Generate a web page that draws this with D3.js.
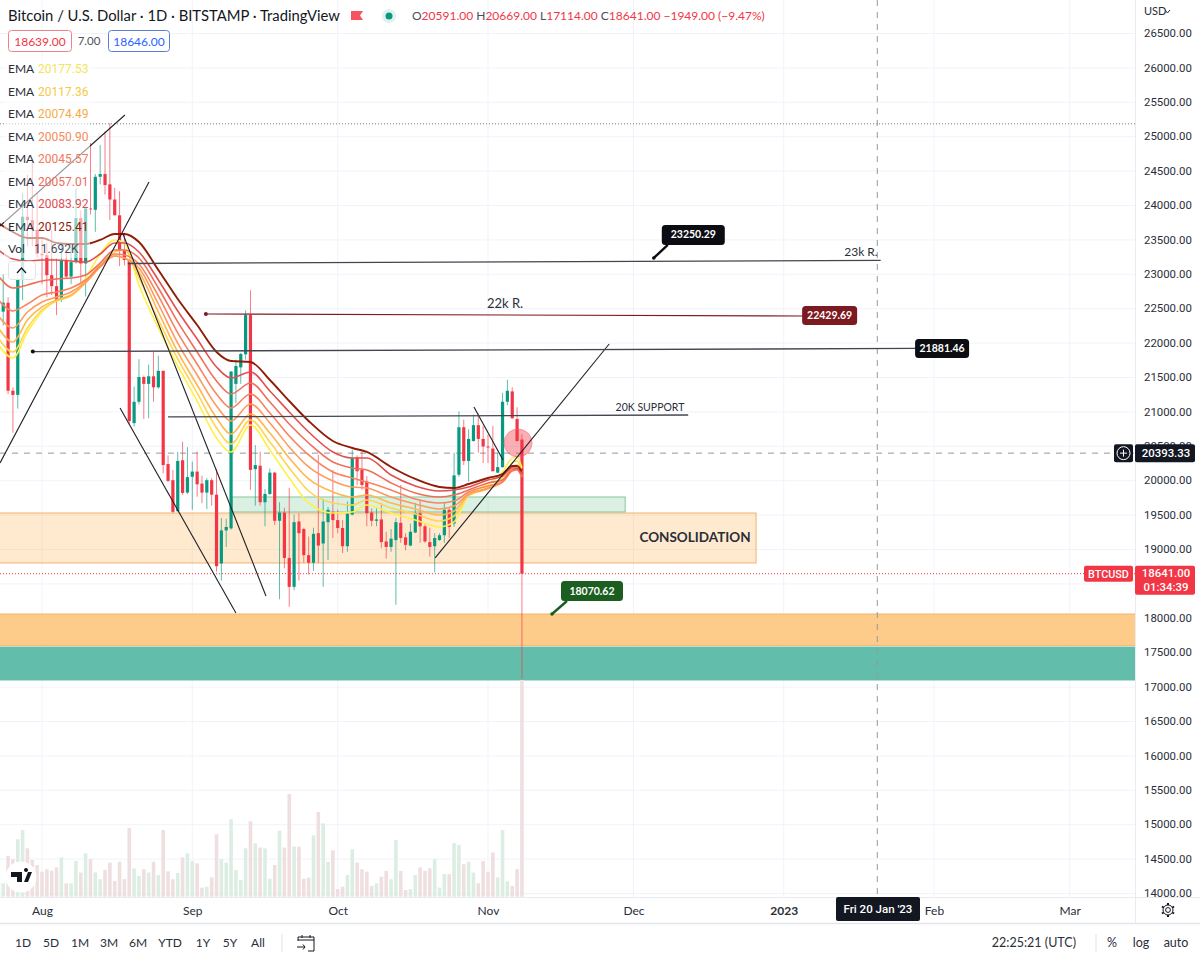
<!DOCTYPE html>
<html><head><meta charset="utf-8">
<script src="https://cdn.jsdelivr.net/npm/d3@7"></script>
<style>
html,body{margin:0;padding:0;background:#fff}
svg{display:block}
text{font-family:"Lato","Open Sans",sans-serif;fill:#131722}
.num{font-family:"Roboto",sans-serif}
</style></head><body>
<svg id="c" width="1200" height="960"></svg>
<script>
// ---- data ----
const firstDay = "2022-07-23";
const opens  = [22680,22450,22580,21300,21240,22910,23830,23780,23640,23290,23270,22980,22820,22620,23200,22960,23170,23810,23150,23950,23930,24410,24450,24300,24080,23850,23350,23200,20830,21140,21500,21400,21510,21350,21590,20235,20000,19550,20290,19820,20050,20125,19950,19820,20000,19790,18790,19270,19300,21400,21640,21830,22400,20160,20210,19680,19800,20110,19410,19530,18870,18450,19400,19290,18910,18800,19230,19080,19390,19540,19420,19305,19040,19500,20330,20150,19980,19530,19410,19430,19110,19030,19130,19380,19170,19050,19240,19520,19330,19100,19040,19130,19200,19570,19370,20080,20770,20280,20570,20800,20600,20490,20460,20110,20190,21140,21290,20890,20591];
const highs  = [22990,22990,22660,21350,22990,24170,24440,24650,24170,23500,23450,23640,23220,23450,23350,23400,24240,23920,24000,24900,24450,24870,25070,25190,24250,24200,23600,23220,21360,21760,21520,21680,21870,21810,21590,20360,20150,20410,20560,20480,20270,20415,20065,20030,20030,20165,19450,19440,21580,21750,21850,22470,22760,20510,20415,19870,20170,20120,19680,19600,19890,19500,19520,19310,19180,19310,20370,19730,19610,20150,19570,19420,19690,20440,20360,20410,20060,19590,19590,19670,19250,19290,19450,19930,19230,19370,19670,19700,19360,19310,19230,19230,19670,19600,20400,21000,20880,20740,20950,20970,20790,20660,20790,20400,21270,21460,21350,21060,20669];
const lows   = [21950,22250,21250,20690,21040,22620,23400,23400,23230,22850,22660,22690,22400,22590,22930,22850,23150,22880,22670,23860,23610,24300,24150,23780,23850,23110,23120,20800,20780,21100,20890,20900,21140,21330,20100,19970,19520,19540,19785,19800,19570,19760,19665,19580,19630,18670,18540,19030,19280,21120,21400,21750,19860,19630,19630,19330,19785,19350,18270,18720,18160,18400,18540,18800,18630,18680,18800,18450,18840,19160,19230,18940,18960,19490,19930,19860,19330,19330,19330,19010,18860,18960,18190,19090,18980,19040,19230,19090,19090,18890,18660,19120,19090,19160,19320,20050,20220,19980,20560,20400,20250,20250,20130,20100,20180,21090,20890,20560,17114];
const closes = [22450,22580,21300,21240,22910,23830,23780,23640,23290,23270,22980,22820,22620,23200,22960,23170,23810,23150,23950,23940,24410,24450,24290,24080,23850,23350,23200,20860,21140,21500,21400,21510,21350,21590,20220,19990,19540,20280,19815,20045,20125,19940,19820,20000,19790,18750,19270,19320,21580,21660,21835,22400,20150,20220,19680,19800,20110,19410,19530,18870,18450,19390,19230,18910,18800,19220,19050,19400,19570,19420,19305,19040,19510,20320,20130,19930,19520,19410,19430,19100,19030,19150,19390,19160,19060,19250,19520,19330,19110,19030,19160,19200,19570,19320,20070,20770,20280,20600,20800,20600,20490,20480,20130,20190,21140,21300,20900,20570,18641];
const volumesK = [1.08,0.72,2.20,2.02,3.10,3.60,2.61,1.98,1.71,1.35,1.48,1.40,1.58,2.12,0.72,0.72,1.93,1.30,2.34,2.03,1.31,0.94,1.44,1.84,0.85,1.89,0.95,3.71,1.53,1.12,1.48,1.30,1.89,1.17,3.60,1.37,0.94,1.28,2.12,2.34,1.93,1.80,0.49,0.54,1.04,3.37,2.03,1.84,4.18,1.44,0.90,2.61,4.07,2.88,2.65,2.61,0.97,1.71,3.56,2.65,5.54,2.70,2.70,0.97,1.03,3.31,4.57,3.96,1.89,2.50,0.41,0.54,1.17,2.56,1.84,1.48,1.35,0.58,0.72,1.08,1.39,0.94,3.06,1.39,0.36,0.41,1.17,1.58,1.39,1.53,2.02,0.49,1.22,1.22,2.90,2.79,1.75,1.89,1.30,0.72,1.93,1.35,2.39,1.04,3.60,0.83,0.58,1.49,11.692];

const emaDays = [-9,-6,-3,0,3,6,9,12,15,17,20,24,28,32,36,39,43,47,51,55,60,64,67,72,77,82,85,88,92,95,97,98,99]; // days after 1 Aug 2022
const ema1 = [21965,21776,22154,22445,22620,22678,22939,23288,23492,23448,22838,22213,21660,21151,20614,20410,20803,20439,20032,19669,19523,19538,19640,19523,19422,19320,19393,19785,19945,20120,20323,20338,20177.53];
const ema2 = [22067,21864,22213,22474,22605,22678,22881,23143,23317,23346,22939,22329,21762,21268,20759,20527,20875,20556,20178,19843,19669,19640,19713,19596,19509,19407,19480,19771,19887,20032,20250,20280,20117.36];
const ema3 = [22213,22009,22329,22518,22620,22692,22867,23099,23259,23230,23026,22445,21864,21384,20904,20672,20962,20686,20323,20018,19829,19756,19785,19669,19582,19495,19553,19785,19872,19989,20192,20221,20074.49];
const ema4 = [22387,22213,22445,22590,22663,22736,22881,23099,23259,23230,23085,22561,21994,21529,21079,20861,21108,20832,20483,20192,19989,19902,19887,19756,19654,19582,19625,19800,19887,19974,20149,20163,20050.90];
const ema5 = [22620,22460,22561,22692,22736,22794,22910,23114,23288,23274,23143,22678,22140,21689,21253,21050,21253,20977,20643,20367,20120,20032,19974,19858,19727,19669,19698,19829,19916,19974,20134,20149,20045.57];
const ema6 = [22968,22794,22838,22896,22925,22939,22983,23157,23346,23346,23230,22794,22300,21864,21442,21253,21413,21137,20817,20541,20265,20178,20149,19960,19814,19756,19785,19858,19960,20003,20149,20163,20057.01];
const ema7 = [23346,23215,23186,23201,23201,23186,23172,23288,23448,23448,23317,22910,22460,22053,21646,21486,21573,21297,20992,20701,20410,20323,20323,20076,19916,19843,19858,19902,20003,20061,20178,20178,20083.92];
const ema8 = [23739,23608,23521,23521,23448,23433,23433,23492,23579,23579,23462,23056,22634,22256,21864,21733,21718,21457,21151,20861,20570,20468,20410,20192,20018,19902,19887,19945,20032,20090,20207,20207,20125.41];
const emaSeries = [ema1,ema2,ema3,ema4,ema5,ema6,ema7,ema8];
const emaLabels = ["20177.53","20117.36","20074.49","20050.90","20045.57","20057.01","20083.92","20125.41"];

const priceTicks = d3.range(14000,27000,500);
const hiddenPriceLabels = [18500];
const timeTicks = ["2022-08-01","2022-09-01","2022-10-01","2022-11-01","2022-12-01","2023-01-01","2023-02-01","2023-03-01"];
const timeLabels = ["Aug","Sep","Oct","Nov","Dec","2023","Feb","Mar"];
const rangeButtons = ["1D","5D","1M","3M","6M","YTD","1Y","5Y","All"];

// drawings: [dayFrom, priceFrom, dayTo, priceTo]
const inkLines = [[-8.66,23695,17.1,25308],[-8.66,20250,22.07,24335],[16.1,21050,40,18070],[16.7,23578,46.2,18317],[81.1,18870,117,21980],[89.1,21065,95.1,20294]];
const levelLines = [[17.7,23150,173,23195],[-1.9,21870,180.3,21915],[26,20919,133.3,20948]];
const redLevel = [33.8,22416,157,22387];
const zones = {consolidation:[-20,19523,147.3,18797],support:[39.2,19756,120.3,19538],sand:[-20,18055,250,17600],teal:[-20,17575,250,17096]};
const callouts = [["23250.29",126.2,23230],["22429.69",156.8,22387],["21881.46",180.1,21907],["18070.62",105.2,18055]];
const lastClose = 18641, crossPrice = 20393.33, crossDay = 172.3, dotPrice = 25180, alertDay = 98.2, alertPrice = 20541;

// ---- scales ----
const day = n => d3.utcDay.offset(new Date(Date.UTC(2022,7,1)), n);
const x = d3.scaleUtc().domain([day(0),day(92)]).range([42,488]);
const y = d3.scaleLinear().domain([14000,26500]).range([893,33]);
const vol = d3.scaleLinear().domain([0,11.692]).range([896.7,680]);
const X = n => x(day(0).getTime()+n*864e5);
const startOffset = d3.utcDay.count(new Date(firstDay), day(0));

const svg = d3.select("#c");
const defs = svg.append("defs");
defs.append("clipPath").attr("id","plot").append("rect").attr("width",1135).attr("height",897);
const UP="#089981", DOWN="#f23645", EMACOL=["#fff04a","#ffd54f","#ffb74d","#ff9a5c","#f9835f","#ef6f5a","#e2504e","#8f1d05"];

// grid
const plot = svg.append("g").attr("clip-path","url(#plot)");
plot.append("g").selectAll("line").data(priceTicks).join("line")
  .attr("x1",0).attr("x2",1135).attr("y1",d=>y(d)+.5).attr("y2",d=>y(d)+.5).attr("stroke","#f0f3fa");
plot.append("g").selectAll("line").data(timeTicks).join("line")
  .attr("x1",d=>x(new Date(d))).attr("x2",d=>x(new Date(d))).attr("y1",0).attr("y2",897).attr("stroke","#f0f3fa");

// zones
const rectZone = (z,fill,stroke)=>plot.append("rect").attr("x",X(z[0])).attr("y",y(z[1])).attr("width",X(z[2])-X(z[0])).attr("height",y(z[3])-y(z[1]))
  .attr("fill",fill).attr("stroke",stroke).attr("stroke-width",1);
rectZone(zones.consolidation,"rgba(255,167,60,.24)","#f4b26a");
rectZone(zones.support,"rgba(76,175,110,.2)","#86c79a");
rectZone(zones.sand,"#fdcb8a","#f5b466");
rectZone(zones.teal,"#62bdab","#62bdab");

// reference lines
plot.append("line").attr("x1",0).attr("x2",1135).attr("y1",y(dotPrice)).attr("y2",y(dotPrice)).attr("stroke","#787b86").attr("stroke-dasharray","1 2");
plot.append("line").attr("x1",0).attr("x2",1135).attr("y1",y(lastClose)).attr("y2",y(lastClose)).attr("stroke","#f23645").attr("stroke-dasharray","1 2");
plot.append("line").attr("x1",0).attr("x2",1135).attr("y1",y(crossPrice)).attr("y2",y(crossPrice)).attr("stroke","#9598a1").attr("stroke-dasharray","6 6");
plot.append("line").attr("x1",X(crossDay)).attr("x2",X(crossDay)).attr("y1",0).attr("y2",897).attr("stroke","#9598a1").attr("stroke-dasharray","6 6");

// candles + volume
const rows = closes.map((c,i)=>({n:i-startOffset,o:opens[i],h:highs[i],l:lows[i],c,v:volumesK[i]}));
plot.append("g").selectAll("rect").data(rows).join("rect")
  .attr("x",d=>X(d.n)-1.8).attr("width",3.6).attr("y",d=>vol(d.v)).attr("height",d=>vol(0)-vol(d.v))
  .attr("fill",d=>d.c>=d.o?"#dceee3":"#efdfe0");
plot.append("g").selectAll("line").data(rows).join("line")
  .attr("x1",d=>X(d.n)).attr("x2",d=>X(d.n)).attr("y1",d=>y(d.h)).attr("y2",d=>y(d.l))
  .attr("stroke",d=>d.c>=d.o?UP:DOWN).attr("stroke-opacity",.65).attr("stroke-width",1);
plot.append("g").selectAll("rect").data(rows).join("rect")
  .attr("x",d=>X(d.n)-1.6).attr("width",3.2).attr("y",d=>y(Math.max(d.o,d.c))).attr("height",d=>Math.max(1,Math.abs(y(d.o)-y(d.c))))
  .attr("fill",d=>d.c>=d.o?UP:DOWN);

// EMA ribbon
const line = d3.line().curve(d3.curveMonotoneX);
plot.append("g").attr("fill","none").selectAll("path").data(emaSeries).join("path")
  .attr("d",s=>line(s.map((p,i)=>[X(emaDays[i]),y(p)])))
  .attr("stroke",(s,i)=>EMACOL[i]).attr("stroke-width",(s,i)=>i==7?1.9:1.6);

// alert circle
plot.append("circle").attr("cx",X(alertDay)).attr("cy",y(alertPrice)).attr("r",14).attr("fill","rgba(242,54,69,.4)").attr("stroke","rgba(242,100,120,.5)");

// drawings
const seg = (s,col,w)=>plot.append("line").attr("x1",X(s[0])).attr("y1",y(s[1])).attr("x2",X(s[2])).attr("y2",y(s[3])).attr("stroke",col).attr("stroke-width",w);
inkLines.forEach(s=>seg(s,"#1f1f24",1.1));
levelLines.forEach(s=>seg(s,"#44464f",1.3));
seg(redLevel,"#801922",1.1);
plot.append("circle").attr("cx",X(redLevel[0])).attr("cy",y(redLevel[1])).attr("r",2).attr("fill","#801922");
plot.append("circle").attr("cx",X(levelLines[1][0])).attr("cy",y(levelLines[1][1])).attr("r",2).attr("fill","#111");

// legend veil washes out the candles behind the indicator list
plot.append("rect").attr("x",4).attr("y",58).attr("width",86).attr("height",200).attr("fill","#fff").attr("fill-opacity",.55);

// callouts
const calloutStyle = [{bg:"#0b0d12",dx:8,dy:-33,w:63,h:20,tail:1},{bg:"#7b1a20",dx:0,dy:-10,w:55,h:19},{bg:"#0b0d12",dx:0,dy:-10,w:54,h:19},{bg:"#1b5e20",dx:9,dy:-33,w:62,h:20,tail:1}];
callouts.forEach((c,i)=>{
  const s=calloutStyle[i], ax=X(c[1]), ay=y(c[2]);
  if(s.tail){
    plot.append("line").attr("x1",ax).attr("y1",ay).attr("x2",ax+s.dx+6).attr("y2",ay+s.dy+s.h).attr("stroke",s.bg).attr("stroke-width",2.4);
    plot.append("circle").attr("cx",ax).attr("cy",ay).attr("r",1.8).attr("fill",s.bg);
  }
  plot.append("rect").attr("x",ax+s.dx).attr("y",ay+s.dy).attr("width",s.w).attr("height",s.h).attr("rx",3.5).attr("fill",s.bg);
  plot.append("text").attr("x",ax+s.dx+s.w/2).attr("y",ay+s.dy+s.h/2+3.5).attr("text-anchor","middle").attr("font-size",10.5).attr("font-weight",700).style("fill","#fff").text(c[0]);
});
const note=(t,px,py,sz,w,col)=>svg.append("text").attr("x",px).attr("y",py).attr("text-anchor","middle").attr("font-size",sz).attr("font-weight",w||400).style("fill",col||"#2a2e39").text(t);
note("23k R.",861,256,12);
note("22k R.",505,308,13);
note("20K SUPPORT",650,411,10.5);
note("CONSOLIDATION",695,542,13.5,700);

// axes chrome
svg.append("rect").attr("x",1135).attr("y",0).attr("width",65).attr("height",960).attr("fill","#fff");
svg.append("rect").attr("x",0).attr("y",897).attr("width",1200).attr("height",63).attr("fill","#fff");
svg.append("line").attr("x1",1135.5).attr("x2",1135.5).attr("y1",0).attr("y2",924).attr("stroke","#e9ebf0");
svg.append("line").attr("x1",0).attr("x2",1200).attr("y1",897.5).attr("y2",897.5).attr("stroke","#e9ebf0");
svg.append("line").attr("x1",0).attr("x2",1200).attr("y1",923.5).attr("y2",923.5).attr("stroke","#e3e5ea").attr("stroke-width",1.5);

const yAxis = d3.axisRight(y).tickValues(priceTicks.filter(p=>!hiddenPriceLabels.includes(p))).tickSize(0).tickPadding(0).tickFormat(d=>d3.format(".2f")(d));
const yg = svg.append("g").attr("transform","translate(1144,0)").call(yAxis);
yg.select(".domain").remove();
yg.selectAll("text").attr("class","num").attr("font-size",11.4).attr("font-family",null).style("fill","#2a2e39");
const xAxis = d3.axisBottom(x).tickValues(timeTicks.map(d=>new Date(d))).tickSize(0).tickPadding(0).tickFormat((d,i)=>timeLabels[i]);
const xg = svg.append("g").attr("transform","translate(0,906)").call(xAxis);
xg.select(".domain").remove();
xg.selectAll("text").attr("font-size",12).attr("font-family",null).style("fill","#2a2e39").attr("font-weight",(d,i)=>timeLabels[i]=="2023"?700:400);

svg.append("text").attr("x",1144).attr("y",15).attr("font-size",11).style("fill","#2a2e39").text("USD");
svg.append("path").attr("d","M1165 10l2.5 3 2.5-3").attr("fill","none").attr("stroke","#2a2e39");

// crosshair tags
const tag=(px,py,w,h,bg)=>svg.append("rect").attr("x",px).attr("y",py).attr("width",w).attr("height",h).attr("rx",2).attr("fill",bg);
const tagTxt=(t,px,py,sz,wgt)=>svg.append("text").attr("class","num").attr("x",px).attr("y",py).attr("text-anchor","middle").attr("font-size",sz).attr("font-weight",wgt||400).style("fill","#fff").text(t);
const crossY=y(crossPrice);
tag(1114,crossY-9,19,18,"#131722");
svg.append("circle").attr("cx",1123.5).attr("cy",crossY).attr("r",6.5).attr("fill","none").attr("stroke","#fff");
svg.append("path").attr("d",`M1120 ${crossY}h7M1123.5 ${crossY-3.5}v7`).attr("stroke","#fff");
tag(1135,crossY-9,60,18,"#131722");
tagTxt(d3.format(".2f")(crossPrice),1166,crossY+4,11.4,500);
const lastY=y(lastClose);
tag(1084,lastY-8,49,16,"#f23645");
tagTxt("BTCUSD",1108.5,lastY+4,10.8,500);
tag(1135,lastY-8,60,29,"#f23645");
tagTxt("18641.00",1166,lastY+3.5,11.4,500);
tagTxt("01:34:39",1166,lastY+17.5,11.4,500);
tag(836,897,84,24,"#131722");
tagTxt("Fri 20 Jan '23",878,913,11.5,500);

// gear
const gear=svg.append("g").attr("transform","translate(1168,910)").attr("fill","none").attr("stroke","#131722");
gear.append("circle").attr("r",2.4);
gear.append("circle").attr("r",5);
gear.selectAll("line").data([0,60,120,180,240,300]).join("line").attr("y1",-5).attr("y2",-7).attr("stroke-width",2).attr("transform",d=>`rotate(${d})`);

// header
svg.append("text").attr("x",8).attr("y",21).attr("font-size",14.8).style("fill","#131722").text("Bitcoin / U.S. Dollar · 1D · BITSTAMP · TradingView");
svg.append("path").attr("d","M351 11h12l-3 4.5 3 4.5h-12z").attr("fill","#f7525f");
svg.append("circle").attr("cx",389).attr("cy",16).attr("r",7).attr("fill","#089981").attr("fill-opacity",.13);
svg.append("circle").attr("cx",389).attr("cy",16).attr("r",3.5).attr("fill","#089981");
const ohlc=svg.append("text").attr("x",412).attr("y",20).attr("font-size",12);
[["O","20591.00"],["H","20669.00"],["L","17114.00"],["C","18641.00"]].forEach(p=>{
  ohlc.append("tspan").style("fill","#4a4e5a").text(p[0]);
  ohlc.append("tspan").style("fill","#f23645").text(p[1]+" ");
});
ohlc.append("tspan").style("fill","#f23645").text("−1949.00 (−9.47%)");
svg.append("rect").attr("x",8.5).attr("y",30.5).attr("width",63).attr("height",21).attr("rx",3).attr("fill","#fff").attr("stroke","#f0808a");
svg.append("text").attr("x",40).attr("y",46).attr("text-anchor","middle").attr("font-size",12).style("fill","#f23645").text("18639.00");
svg.append("text").attr("x",89).attr("y",45).attr("text-anchor","middle").attr("font-size",11.5).style("fill","#50535e").text("7.00");
svg.append("rect").attr("x",108.5).attr("y",30.5).attr("width",61).attr("height",21).attr("rx",3).attr("fill","#fff").attr("stroke","#5b7fd6");
svg.append("text").attr("x",139).attr("y",46).attr("text-anchor","middle").attr("font-size",12).style("fill","#2962ff").text("18646.00");

// legend
const legendTop=73, legendStep=22.5;
const TXT=["#f5e35a","#f7c948","#f7ab4a","#f58a5a","#f2785c","#ec6a5c","#de4d50","#8f1d05"];
emaLabels.forEach((v,i)=>{
  svg.append("text").attr("x",8).attr("y",legendTop+i*legendStep).attr("font-size",12).style("fill","#2a2e39").text("EMA");
  svg.append("text").attr("class","num").attr("x",38).attr("y",legendTop+i*legendStep).attr("font-size",12).style("fill",TXT[i]).text(v);
});
svg.append("text").attr("x",8).attr("y",legendTop+8*legendStep).attr("font-size",12).style("fill","#2a2e39").text("Vol");
svg.append("text").attr("class","num").attr("x",34).attr("y",legendTop+8*legendStep).attr("font-size",12).style("fill","#4a4e5a").text("11.692K");
svg.append("rect").attr("x",8.5).attr("y",261.5).attr("width",27).attr("height",18).attr("rx",3).attr("fill","#fff").attr("fill-opacity",.8).attr("stroke","#e0e3eb");
svg.append("path").attr("d","M17 273l4.5-5 4.5 5").attr("fill","none").attr("stroke","#131722").attr("stroke-width",1.2);

// TV logo
const logo=svg.append("g").attr("transform","translate(21,877)");
logo.append("circle").attr("r",15.5).attr("fill","#fff");
logo.append("path").attr("d","M-10-5h11v10h-5v-5h-6zM5-5a2 2 0 1 1 .01 0z M3 5l4-10h4l-4 10z M-10 -5").attr("fill","#131722");

// bottom bar
const btnX=[23,51,80,109,138,170,203,230,258];
rangeButtons.forEach((b,i)=>svg.append("text").attr("x",btnX[i]).attr("y",947).attr("text-anchor","middle").attr("font-size",12).style("fill","#2a2e39").text(b));
svg.append("line").attr("x1",282).attr("x2",282).attr("y1",934).attr("y2",952).attr("stroke","#e0e3eb");
svg.append("path").attr("d","M298 941v-4h16v14h-6M298 940h16M302 935v3M310 935v3M297 947h8l-2-2.5M305 947l-2 2.5").attr("fill","none").attr("stroke","#131722").attr("stroke-width",1);
svg.append("text").attr("x",1076).attr("y",947).attr("text-anchor","end").attr("font-size",12.5).style("fill","#2a2e39").text("22:25:21 (UTC)");
svg.append("line").attr("x1",1096).attr("x2",1096).attr("y1",934).attr("y2",952).attr("stroke","#e0e3eb");
[["%",1112],["log",1141],["auto",1176]].forEach(p=>svg.append("text").attr("x",p[1]).attr("y",947).attr("text-anchor","middle").attr("font-size",12.5).style("fill","#2a2e39").text(p[0]));
</script></body></html>
